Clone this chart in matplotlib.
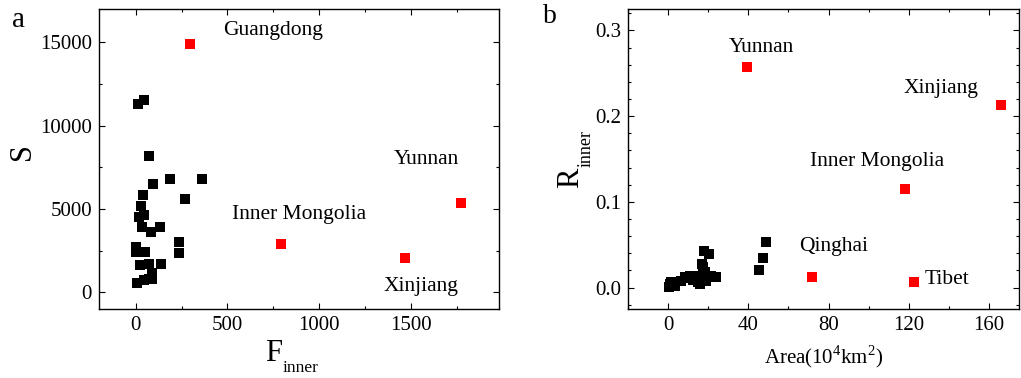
import matplotlib
matplotlib.use("Agg")
from matplotlib import pyplot as plt
from matplotlib.ticker import MultipleLocator, FormatStrFormatter

plt.rcParams['font.family'] = ['Liberation Serif', 'DejaVu Serif']
plt.rcParams['mathtext.fontset'] = 'custom'
plt.rcParams['mathtext.rm'] = 'Liberation Serif'

# panel a: F_inner vs S
f_black = [14, 45, 74, 92, 188, 364, 42, 270, 31, 16, 43, 34, 85, 130,
           237, 237, 2, 52, 2, 25, 71, 139, 87, 72, 45, 5, 91]
s_black = [11300, 11540, 8200, 6480, 6800, 6800, 5840, 5580, 5180, 4540,
           4640, 3940, 3640, 3900, 3040, 2380, 2740, 2440, 2400, 1640,
           1680, 1680, 1180, 780, 740, 580, 820]
red_names_a = ["Guangdong", "Inner Mongolia", "Xinjiang", "Yunnan"]
f_red = [295, 792, 1467, 1772]
s_red = [14900, 2900, 2080, 5380]

# panel b: area (10^4 km^2) vs R_inner
area_black = [0.63, 1.13, 1.64, 3.54, 6.64, 8.24, 10.55, 10.72, 12.4, 14.01,
              14.8, 15.67, 15.79, 16.69, 16.7, 17.62, 17.98, 18.59, 18.74,
              18.88, 20.56, 21.18, 23.76, 45.44, 47.3, 48.6]
r_black = [0.001, 0.004, 0.007, 0.002, 0.008, 0.012, 0.011, 0.013, 0.009,
           0.013, 0.006, 0.004, 0.010, 0.028, 0.014, 0.024, 0.043, 0.018,
           0.008, 0.011, 0.039, 0.013, 0.012, 0.020, 0.034, 0.053]
red_names_b = ["Yunnan", "Xinjiang", "Inner Mongolia", "Qinghai", "Tibet"]
area_red = [39.1, 165.8, 118.1, 72.0, 122.6]
r_red = [0.257, 0.2134, 0.115, 0.012, 0.0062]

# where the labels sit (left edge, baseline), data coords
label_pos_a = {"Guangdong": (477, 15440), "Inner Mongolia": (525, 4380),
               "Xinjiang": (1353, 100), "Yunnan": (1404, 7670)}
label_pos_b = {"Yunnan": (30.3, 0.2743), "Xinjiang": (117.2, 0.2266),
               "Inner Mongolia": (71, 0.1422), "Qinghai": (65.2, 0.0431),
               "Tibet": (128, 0.0043)}

fig = plt.figure(figsize=(10.21, 3.78), dpi=100)
ax1 = fig.add_axes([99/1021, 1-309/378, 400/1021, 300/378])
ax2 = fig.add_axes([628/1021, 1-309/378, 391/1021, 300/378])

ms = 52
for ax in (ax1, ax2):
    ax.tick_params(which='both', direction='in', top=True, right=True,
                   labelsize=15, width=0.8, pad=5)
    ax.tick_params(which='major', length=4.5)
    ax.tick_params(which='minor', length=2.5)
    for sp in ax.spines.values():
        sp.set_linewidth(1.0)

ax1.scatter(f_black, s_black, s=ms, marker='s', color='black', linewidths=0)
ax1.scatter(f_red, s_red, s=ms, marker='s', color='#ff0000', linewidths=0)
for name in red_names_a:
    x, y = label_pos_a[name]
    ax1.text(x, y, name, fontsize=15.5, ha='left', va='baseline')
ax1.set_xlim(-200, 1980)
ax1.set_ylim(-1000, 17000)
ax1.xaxis.set_major_locator(MultipleLocator(500))
ax1.xaxis.set_minor_locator(MultipleLocator(250))
ax1.yaxis.set_major_locator(MultipleLocator(5000))
ax1.yaxis.set_minor_locator(MultipleLocator(2500))
ax1.text(-0.1925, 0.525, "S", transform=ax1.transAxes, fontsize=22,
         rotation=90, ha='center', va='center')
ax1.text(0.4375, -0.147, "F", transform=ax1.transAxes, fontsize=22,
         ha='center', va='center')
ax1.text(0.505, -0.198, "inner", transform=ax1.transAxes, fontsize=12.5,
         ha='center', va='center')

ax2.scatter(area_black, r_black, s=ms, marker='s', color='black', linewidths=0)
ax2.scatter(area_red, r_red, s=ms, marker='s', color='#ff0000', linewidths=0)
for name in red_names_b:
    x, y = label_pos_b[name]
    ax2.text(x, y, name, fontsize=15.5, ha='left', va='baseline')
ax2.set_xlim(-20, 175)
ax2.set_ylim(-0.025, 0.325)
ax2.xaxis.set_major_locator(MultipleLocator(40))
ax2.xaxis.set_minor_locator(MultipleLocator(20))
ax2.yaxis.set_major_locator(MultipleLocator(0.1))
ax2.yaxis.set_minor_locator(MultipleLocator(0.02))
ax2.yaxis.set_major_formatter(FormatStrFormatter('%.1f'))
ax2.text(-0.1458, 0.437, "R", transform=ax2.transAxes, fontsize=22,
         rotation=90, ha='center', va='center')
ax2.text(-0.1074, 0.535, "inner", transform=ax2.transAxes, fontsize=13,
         rotation=90, ha='center', va='center')
ax2.set_xlabel(r'Area(10$^4$km$^2$)', fontsize=15, labelpad=6)

fig.text(12/1021, 1-27/378, "a", fontsize=21, va='baseline')
fig.text(543/1021, 1-23/378, "b", fontsize=20, va='baseline')

fig.savefig("out.png", dpi=100)
